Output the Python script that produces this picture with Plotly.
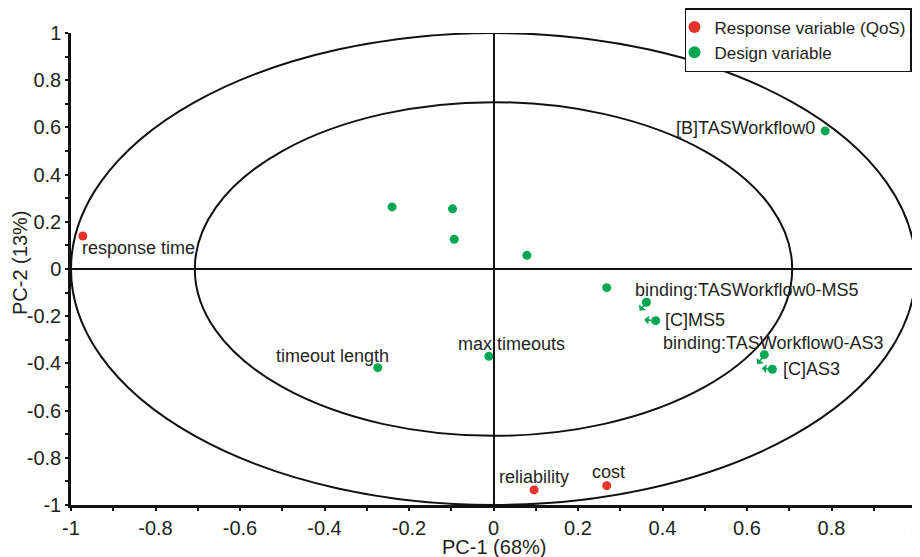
import plotly.graph_objects as go

# ---------------- data ----------------
resp_names = ["response time", "reliability", "cost"]
resp_pc1 = [-0.972, 0.096, 0.268]
resp_pc2 = [0.140, -0.936, -0.918]

design_names = ["[B]TASWorkflow0", "", "", "", "", "",
                "binding:TASWorkflow0-MS5", "[C]MS5",
                "binding:TASWorkflow0-AS3", "[C]AS3",
                "timeout length", "max timeouts"]
design_pc1 = [0.785, -0.240, -0.097, -0.093, 0.079, 0.268,
              0.362, 0.384, 0.641, 0.660, -0.274, -0.011]
design_pc2 = [0.585, 0.263, 0.255, 0.126, 0.058, -0.079,
              -0.141, -0.219, -0.363, -0.425, -0.418, -0.370]

tick_vals = [-1, -0.8, -0.6, -0.4, -0.2, 0, 0.2, 0.4, 0.6, 0.8, 1]
tick_text = ["-1", "-0.8", "-0.6", "-0.4", "-0.2", "0", "0.2", "0.4", "0.6", "0.8", "1"]

outer_radius = 1.0
inner_radius = 0.707

# ---------------- styles / placement ----------------
RED = "#e5342a"
GREEN = "#00a651"
TXT = "#231f20"
FONT = "Liberation Sans, Arial, sans-serif"

# label placement: (xanchor, xshift px, yshift px)
label_place = {
    "response time": ("left", -3, -12),
    "reliability": ("center", 0, 13),
    "cost": ("center", 2, 14),
    "[B]TASWorkflow0": ("right", -8, 3),
    "binding:TASWorkflow0-MS5": ("left", -13, 12),
    "[C]MS5": ("left", 7, 1),
    "binding:TASWorkflow0-AS3": ("right", 121, 12),
    "[C]AS3": ("left", 9, 0),
    "timeout length": ("center", -45, 12),
    "max timeouts": ("center", 23, 12),
}
# small leader arrows (ax, ay px)
arrow_place = {
    "binding:TASWorkflow0-MS5": (-8, 10),
    "[C]MS5": (-13, -1),
    "binding:TASWorkflow0-AS3": (-8, 11),
    "[C]AS3": (-12, -1),
}

fig = go.Figure()
fig.add_trace(go.Scatter(x=resp_pc1, y=resp_pc2, mode="markers",
                         name="Response variable (QoS)",
                         marker=dict(color=RED, size=9), cliponaxis=False))
fig.add_trace(go.Scatter(x=design_pc1, y=design_pc2, mode="markers",
                         name="Design variable",
                         marker=dict(color=GREEN, size=9), cliponaxis=False))

# ellipses (correlation circles)
for r in (outer_radius, inner_radius):
    fig.add_shape(type="circle", xref="x", yref="y", x0=-r, x1=r, y0=-r, y1=r,
                  line=dict(color="#111", width=2), layer="below")

annotations = []
for names, xs, ys in ((resp_names, resp_pc1, resp_pc2),
                      (design_names, design_pc1, design_pc2)):
    for n, x, y in zip(names, xs, ys):
        if n in label_place:
            xa, xs_, ys_ = label_place[n]
            annotations.append(dict(x=x, y=y, xref="x", yref="y", text=n,
                                    showarrow=False, xanchor=xa, yanchor="middle",
                                    xshift=xs_, yshift=ys_,
                                    font=dict(family=FONT, size=18, color=TXT)))
        if n in arrow_place:
            ax, ay = arrow_place[n]
            annotations.append(dict(x=x, y=y, xref="x", yref="y", text="",
                                    showarrow=True, ax=ax, ay=ay,
                                    arrowside="start", arrowhead=2,
                                    arrowsize=0.9, arrowwidth=1.5,
                                    arrowcolor=GREEN, standoff=0))

# axis titles
annotations.append(dict(x=0.5, y=0, xref="paper", yref="paper", text="PC-1 (68%)",
                        showarrow=False, xanchor="center", yanchor="middle",
                        yshift=-42, font=dict(family=FONT, size=20, color=TXT)))
annotations.append(dict(x=0, y=0.5, xref="paper", yref="paper", text="PC-2 (13%)",
                        showarrow=False, xanchor="center", yanchor="middle",
                        xshift=-51, yshift=6, textangle=-90,
                        font=dict(family=FONT, size=20, color=TXT)))

axis_common = dict(range=[-1, 1], showgrid=False, zeroline=True, automargin=False,
                   zerolinecolor="#111", zerolinewidth=2,
                   showline=True, linecolor="#111", linewidth=2.5,
                   ticks="outside", ticklen=3, tickwidth=2, tickcolor="#111",
                   tickvals=tick_vals, ticktext=tick_text,
                   ticklabeloverflow="allow",
                   tickfont=dict(family=FONT, size=20, color=TXT),
                   minor=dict(dtick=0.1, ticks="outside", ticklen=3,
                              tickwidth=2, tickcolor="#111"))

# the page body adds an 8px offset, so the figure is 912x549
fig.update_layout(
    width=912, height=549,
    margin=dict(l=63, r=4, t=25, b=52, autoexpand=False),
    plot_bgcolor="white", paper_bgcolor="white",
    xaxis=axis_common, yaxis=axis_common,
    showlegend=True,
    legend=dict(x=0.9912, y=1.0, xref="container", yref="container",
                xanchor="right", yanchor="top",
                bordercolor="#111", borderwidth=1.5, bgcolor="white",
                font=dict(family=FONT, size=17, color=TXT),
                tracegroupgap=0, itemsizing="constant", indentation=-12),
    annotations=annotations,
)

fig.write_html("out.html")
